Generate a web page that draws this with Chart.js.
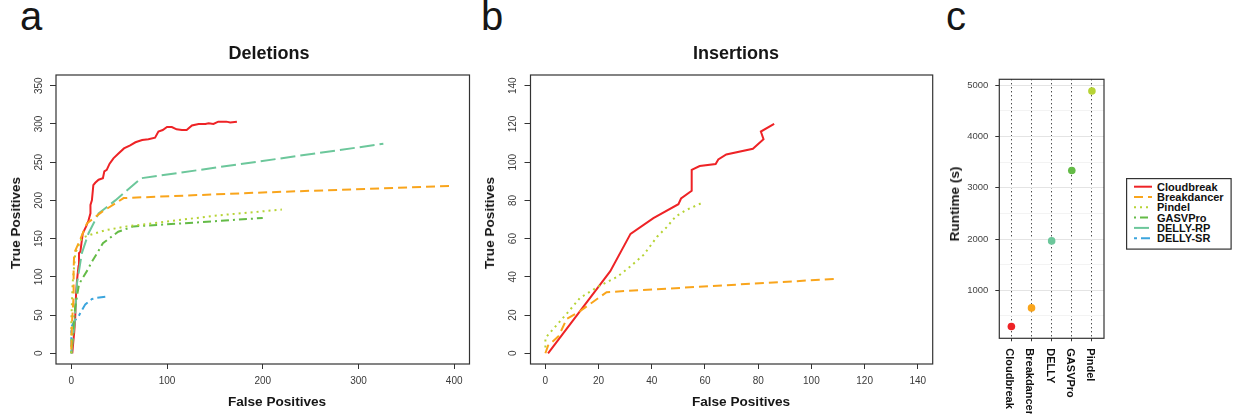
<!DOCTYPE html>
<html>
<head>
    <title>Cloudbreak comparison</title>
    <meta charset="utf-8" />
    <script src="https://cdn.jsdelivr.net/npm/chart.js"></script>
    <style>
        body { margin: 0; background: #fff; font-family: 'Liberation Sans', Arial, sans-serif; }
        #wrap { position: relative; width: 1239px; height: 414px; overflow: hidden; }
        canvas { position: absolute; }
        .lbl { position: absolute; line-height: 0; white-space: nowrap; color: #161616; }
    </style>
</head>
<body>
<div id="wrap">
    <canvas id="del" width="476" height="354" style="left:0;top:60px"></canvas>
    <canvas id="ins" width="463" height="354" style="left:476px;top:60px"></canvas>
    <canvas id="run" width="170" height="354" style="left:940px;top:60px"></canvas>
</div>
<script>
    // methods, colours and line styles (R lty look-alikes)
    var methods = ['Cloudbreak', 'Breakdancer', 'Pindel', 'GASVPro', 'DELLY-RP', 'DELLY-SR'];
    var colors = ['#EE2326', '#F9A51C', '#B7D335', '#64BB47', '#6CC79B', '#3CA5DD'];
    var dashes = [[], [9, 5], [2, 4], [2, 4, 8, 4], [15, 5], [3, 4, 9, 4]];

    // a: deletions (false positives / true positives)
    var delCloudbreakFP = [1, 2, 3, 4, 5, 6, 7.5, 8, 9.5, 11, 12, 15.5, 18, 20, 20, 21.5, 22.5, 23, 25, 28.5, 33, 34.5, 37, 40, 44, 49, 55, 61.5, 67, 74, 80.5, 87.5, 91, 95.5, 100, 105, 110, 115.5, 120.5, 126, 133, 140, 143.5, 148.5, 153.5, 162, 166, 173];
    var delCloudbreakTP = [0, 14, 27, 44, 79, 96, 114, 131, 133, 148, 157, 166, 174, 183, 194, 200, 213, 220, 223, 227, 229, 238, 240, 248, 255, 261, 268, 272, 276, 279, 280, 282, 290, 292, 296, 296, 293, 292, 292, 298, 300, 300, 301, 300, 303, 303, 302, 303];
    var delBreakdancerFP = [0, 0.7, 2.4, 2.4, 3, 7.6, 16.4, 32, 46, 54.6, 192, 399];
    var delBreakdancerTP = [5, 40, 75, 109, 131, 144, 170, 185, 196, 203, 210, 219];
    var delPindelFP = [0, 0, 0, 0.7, 1.4, 4.2, 11, 20, 35.5, 58, 98, 150, 220];
    var delPindelTP = [0, 18, 42, 68, 92, 131, 151, 155, 161, 166, 172, 180, 188];
    var delGasvFP = [0, 2, 4, 8, 11.8, 17, 21.6, 27, 33, 49, 65, 129, 200];
    var delGasvTP = [0, 30, 60, 90, 98.5, 109, 120, 131, 144, 159, 166, 171, 177];
    var delDellyRpFP = [0, 3.5, 6, 11, 18, 28.5, 46, 73, 326];
    var delDellyRpTP = [0, 40, 92, 131, 157, 183, 200, 229, 274];
    var delDellySrFP = [0, 0, 3, 7.6, 14.6, 21.6, 26.8, 35.5];
    var delDellySrTP = [0, 34, 42, 48.6, 64, 71, 72.5, 74];
    var delXTicks = [0, 100, 200, 300, 400];
    var delYTicks = [0, 50, 100, 150, 200, 250, 300, 350];

    // b: insertions
    var insCloudbreakFP = [1, 24.4, 32, 40.6, 50, 51, 55, 55, 58, 64, 65, 68, 78, 82, 81, 86];
    var insCloudbreakTP = [0, 43, 62.5, 70.7, 78, 81, 85, 96, 98, 99, 101.4, 104, 107, 112, 116, 120];
    var insBreakdancerFP = [0, 1, 5, 8, 13, 20, 23, 110];
    var insBreakdancerTP = [0, 4, 9, 18, 22, 29, 32, 39];
    var insPindelFP = [0, 0, 4.4, 8.8, 13, 20, 27, 32, 37, 42, 45.6, 49, 53, 59.4];
    var insPindelTP = [3, 8, 15, 22, 29, 35, 40, 45.5, 51.6, 61, 66, 71.6, 75, 79];
    var insTicks = [0, 20, 40, 60, 80, 100, 120, 140];

    // c: runtime
    var runtimeTools = ['Cloudbreak', 'Breakdancer', 'DELLY', 'GASVPro', 'Pindel'];
    var runtimeSec = [291, 655, 1963, 3338, 4889];
    var runtimeColors = ['#EE2326', '#F9A51C', '#6CC79B', '#64BB47', '#B7D335'];
    var runtimeTicks = [1000, 2000, 3000, 4000, 5000];
    var runtimeMinor = [500, 1500, 2500, 3500, 4500];

    Chart.defaults.font.family = "'Liberation Sans', Arial, sans-serif";

    function pts(xs, ys) {
        return xs.map(function(x, i) { return { x: x, y: ys[i] }; });
    }

    function series(name, xs, ys) {
        var k = methods.indexOf(name);
        return {
            label: name,
            data: pts(xs, ys),
            borderColor: colors[k],
            borderDash: dashes[k],
            borderWidth: 2,
            pointRadius: 0,
            tension: 0,
            fill: false
        };
    }

    // draws the full frame round the plot region
    var boxPlugin = {
        id: 'box',
        afterDatasetsDraw: function(chart) {
            var a = chart.chartArea, c = chart.ctx;
            c.save();
            c.strokeStyle = '#333';
            c.lineWidth = 1.2;
            c.strokeRect(a.left, a.top, a.right - a.left, a.bottom - a.top);
            c.restore();
        }
    };

    function setTicks(list) {
        return function(scale) {
            scale.ticks = list.map(function(v) { return { value: v }; });
        };
    }

    function roc(id, sets, lim, xTicks, yTicks, yw, pad) {
        var tickFont = { size: 10 };
        return new Chart(document.getElementById(id), {
            type: 'line',
            data: { datasets: sets },
            plugins: [boxPlugin],
            options: {
                responsive: false,
                animation: false,
                events: [],
                layout: { padding: { top: 15, right: pad, left: 0, bottom: 0 } },
                plugins: { legend: { display: false }, tooltip: { enabled: false } },
                scales: {
                    x: {
                        type: 'linear',
                        min: lim[0], max: lim[1],
                        afterBuildTicks: setTicks(xTicks),
                        afterFit: function(s) { s.height = 50; },
                        grid: { drawOnChartArea: false, tickLength: 5, color: '#333' },
                        border: { display: false },
                        ticks: { font: tickFont, color: '#3a3a3a', padding: 6, maxRotation: 0,
                                 callback: function(v) { return String(v); } }
                    },
                    y: {
                        type: 'linear',
                        min: lim[2], max: lim[3],
                        afterBuildTicks: setTicks(yTicks),
                        afterFit: function(s) { s.width = yw; },
                        grid: { drawOnChartArea: false, tickLength: 6, color: '#333' },
                        border: { display: false },
                        ticks: { font: tickFont, color: '#3a3a3a', padding: 2.5,
                                 minRotation: 90, maxRotation: 90, crossAlign: 'center',
                                 callback: function(v) { return String(v); } }
                    }
                }
            }
        });
    }

    roc('del', [
        series('Breakdancer', delBreakdancerFP, delBreakdancerTP),
        series('Pindel', delPindelFP, delPindelTP),
        series('GASVPro', delGasvFP, delGasvTP),
        series('DELLY-RP', delDellyRpFP, delDellyRpTP),
        series('DELLY-SR', delDellySrFP, delDellySrTP),
        series('Cloudbreak', delCloudbreakFP, delCloudbreakTP)
    ], [-16, 416, -14, 364], delXTicks, delYTicks, 56, 6.5);

    roc('ins', [
        series('Breakdancer', insBreakdancerFP, insBreakdancerTP),
        series('Pindel', insPindelFP, insPindelTP),
        series('Cloudbreak', insCloudbreakFP, insCloudbreakTP)
    ], [-5.6, 145.6, -5.6, 145.6], insTicks, insTicks, 54.5, 6.3);

    // runtime axis: 5% expansion round the data
    var rMin = Math.min.apply(null, runtimeSec), rMax = Math.max.apply(null, runtimeSec);
    var rPad = (rMax - rMin) * 0.05;

    var toolLabels = {
        id: 'toolLabels',
        afterDraw: function(chart) {
            var c = chart.ctx, sx = chart.scales.x, bottom = chart.chartArea.bottom;
            c.save();
            c.font = 'bold 11px "Liberation Sans", Arial, sans-serif';
            c.fillStyle = '#111';
            c.textAlign = 'left';
            c.textBaseline = 'middle';
            runtimeTools.forEach(function(t, i) {
                c.save();
                c.translate(sx.getPixelForValue(i + 1) - 2, bottom + 10);
                c.rotate(Math.PI / 2);
                c.fillText(t, 0, 0);
                c.restore();
            });
            c.restore();
        }
    };

    new Chart(document.getElementById('run'), {
        type: 'scatter',
        data: {
            datasets: [{
                data: runtimeSec.map(function(v, i) { return { x: i + 1, y: v }; }),
                pointBackgroundColor: runtimeColors,
                pointBorderWidth: 0,
                pointRadius: 3.8
            }]
        },
        plugins: [boxPlugin, toolLabels],
        options: {
            responsive: false,
            animation: false,
            events: [],
            layout: { padding: { top: 19.3, right: 6, left: 0, bottom: 0 } },
            plugins: { legend: { display: false }, tooltip: { enabled: false } },
            scales: {
                x: {
                    type: 'linear',
                    min: 0.4, max: runtimeTools.length + 0.6,
                    afterBuildTicks: setTicks(runtimeTools.map(function(t, i) { return i + 1; })),
                    afterFit: function(s) { s.height = 75.7; },
                    grid: { color: '#000', lineWidth: 1, tickLength: 3, tickColor: '#333' },
                    border: { display: false, dash: [1, 3] },
                    ticks: { display: false }
                },
                y: {
                    type: 'linear',
                    min: rMin - rPad, max: rMax + rPad,
                    afterBuildTicks: setTicks(runtimeTicks.concat(runtimeMinor).sort(function(a, b) { return a - b; })),
                    afterFit: function(s) { s.width = 59.3; },
                    grid: {
                        tickLength: 4,
                        color: function(ctx) { return runtimeTicks.indexOf(ctx.tick.value) >= 0 ? '#e4e4e4' : '#f3f3f3'; },
                        tickColor: function(ctx) { return runtimeTicks.indexOf(ctx.tick.value) >= 0 ? '#333' : 'rgba(0,0,0,0)'; }
                    },
                    border: { display: false },
                    ticks: {
                        font: { size: 9.5 }, color: '#444', padding: 7,
                        callback: function(v) { return runtimeTicks.indexOf(v) >= 0 ? String(v) : ''; }
                    }
                }
            }
        }
    });

    // text outside the plot regions
    var wrap = document.getElementById('wrap');
    function label(text, x, y, size, bold, mode) {
        var d = document.createElement('div');
        d.className = 'lbl';
        d.textContent = text;
        d.style.fontSize = size + 'px';
        d.style.fontWeight = bold ? 'bold' : 'normal';
        d.style.left = x + 'px';
        if (mode === 'rot') {
            d.style.top = y + 'px';
            d.style.transform = 'translate(-50%, 0) rotate(-90deg)';
        } else {
            d.style.top = (y - 0.3465 * size) + 'px';
            if (mode === 'center') d.style.transform = 'translate(-50%, 0)';
        }
        wrap.appendChild(d);
    }

    label('a', 20, 30, 40, false, 'left');
    label('b', 481, 30, 40, false, 'left');
    label('c', 946, 30, 40, false, 'left');
    label('Deletions', 269, 59.5, 18, true, 'center');
    label('Insertions', 736, 59.5, 18, true, 'center');
    label('False Positives', 277, 407, 13.6, true, 'center');
    label('False Positives', 741, 407, 13.6, true, 'center');
    label('True Positives', 16, 223, 13.6, true, 'rot');
    label('True Positives', 489.5, 222.5, 13.6, true, 'rot');
    label('Runtime (s)', 954.5, 204, 13.6, true, 'rot');

    // legend with line samples
    var ns = 'http://www.w3.org/2000/svg';
    var svg = document.createElementNS(ns, 'svg');
    svg.setAttribute('width', 108);
    svg.setAttribute('height', 73);
    svg.style.position = 'absolute';
    svg.style.left = '1126px';
    svg.style.top = '178px';
    var frame = document.createElementNS(ns, 'rect');
    frame.setAttribute('x', 0.6); frame.setAttribute('y', 0.6);
    frame.setAttribute('width', 104.5); frame.setAttribute('height', 70.5);
    frame.setAttribute('fill', 'none'); frame.setAttribute('stroke', '#333'); frame.setAttribute('stroke-width', 1.2);
    svg.appendChild(frame);
    methods.forEach(function(m, k) {
        var cy = 8.7 + k * 10.3;
        var ln = document.createElementNS(ns, 'line');
        ln.setAttribute('x1', 8); ln.setAttribute('x2', 26);
        ln.setAttribute('y1', cy); ln.setAttribute('y2', cy);
        ln.setAttribute('stroke', colors[k]); ln.setAttribute('stroke-width', 2);
        if (dashes[k].length) ln.setAttribute('stroke-dasharray', dashes[k].join(' '));
        svg.appendChild(ln);
        var tx = document.createElementNS(ns, 'text');
        tx.setAttribute('x', 31); tx.setAttribute('y', cy + 4);
        tx.setAttribute('font-family', "'Liberation Sans', Arial, sans-serif");
        tx.setAttribute('font-size', 11); tx.setAttribute('font-weight', 'bold');
        tx.setAttribute('fill', '#111');
        tx.textContent = m;
        svg.appendChild(tx);
    });
    wrap.appendChild(svg);
</script>
</body>
</html>
